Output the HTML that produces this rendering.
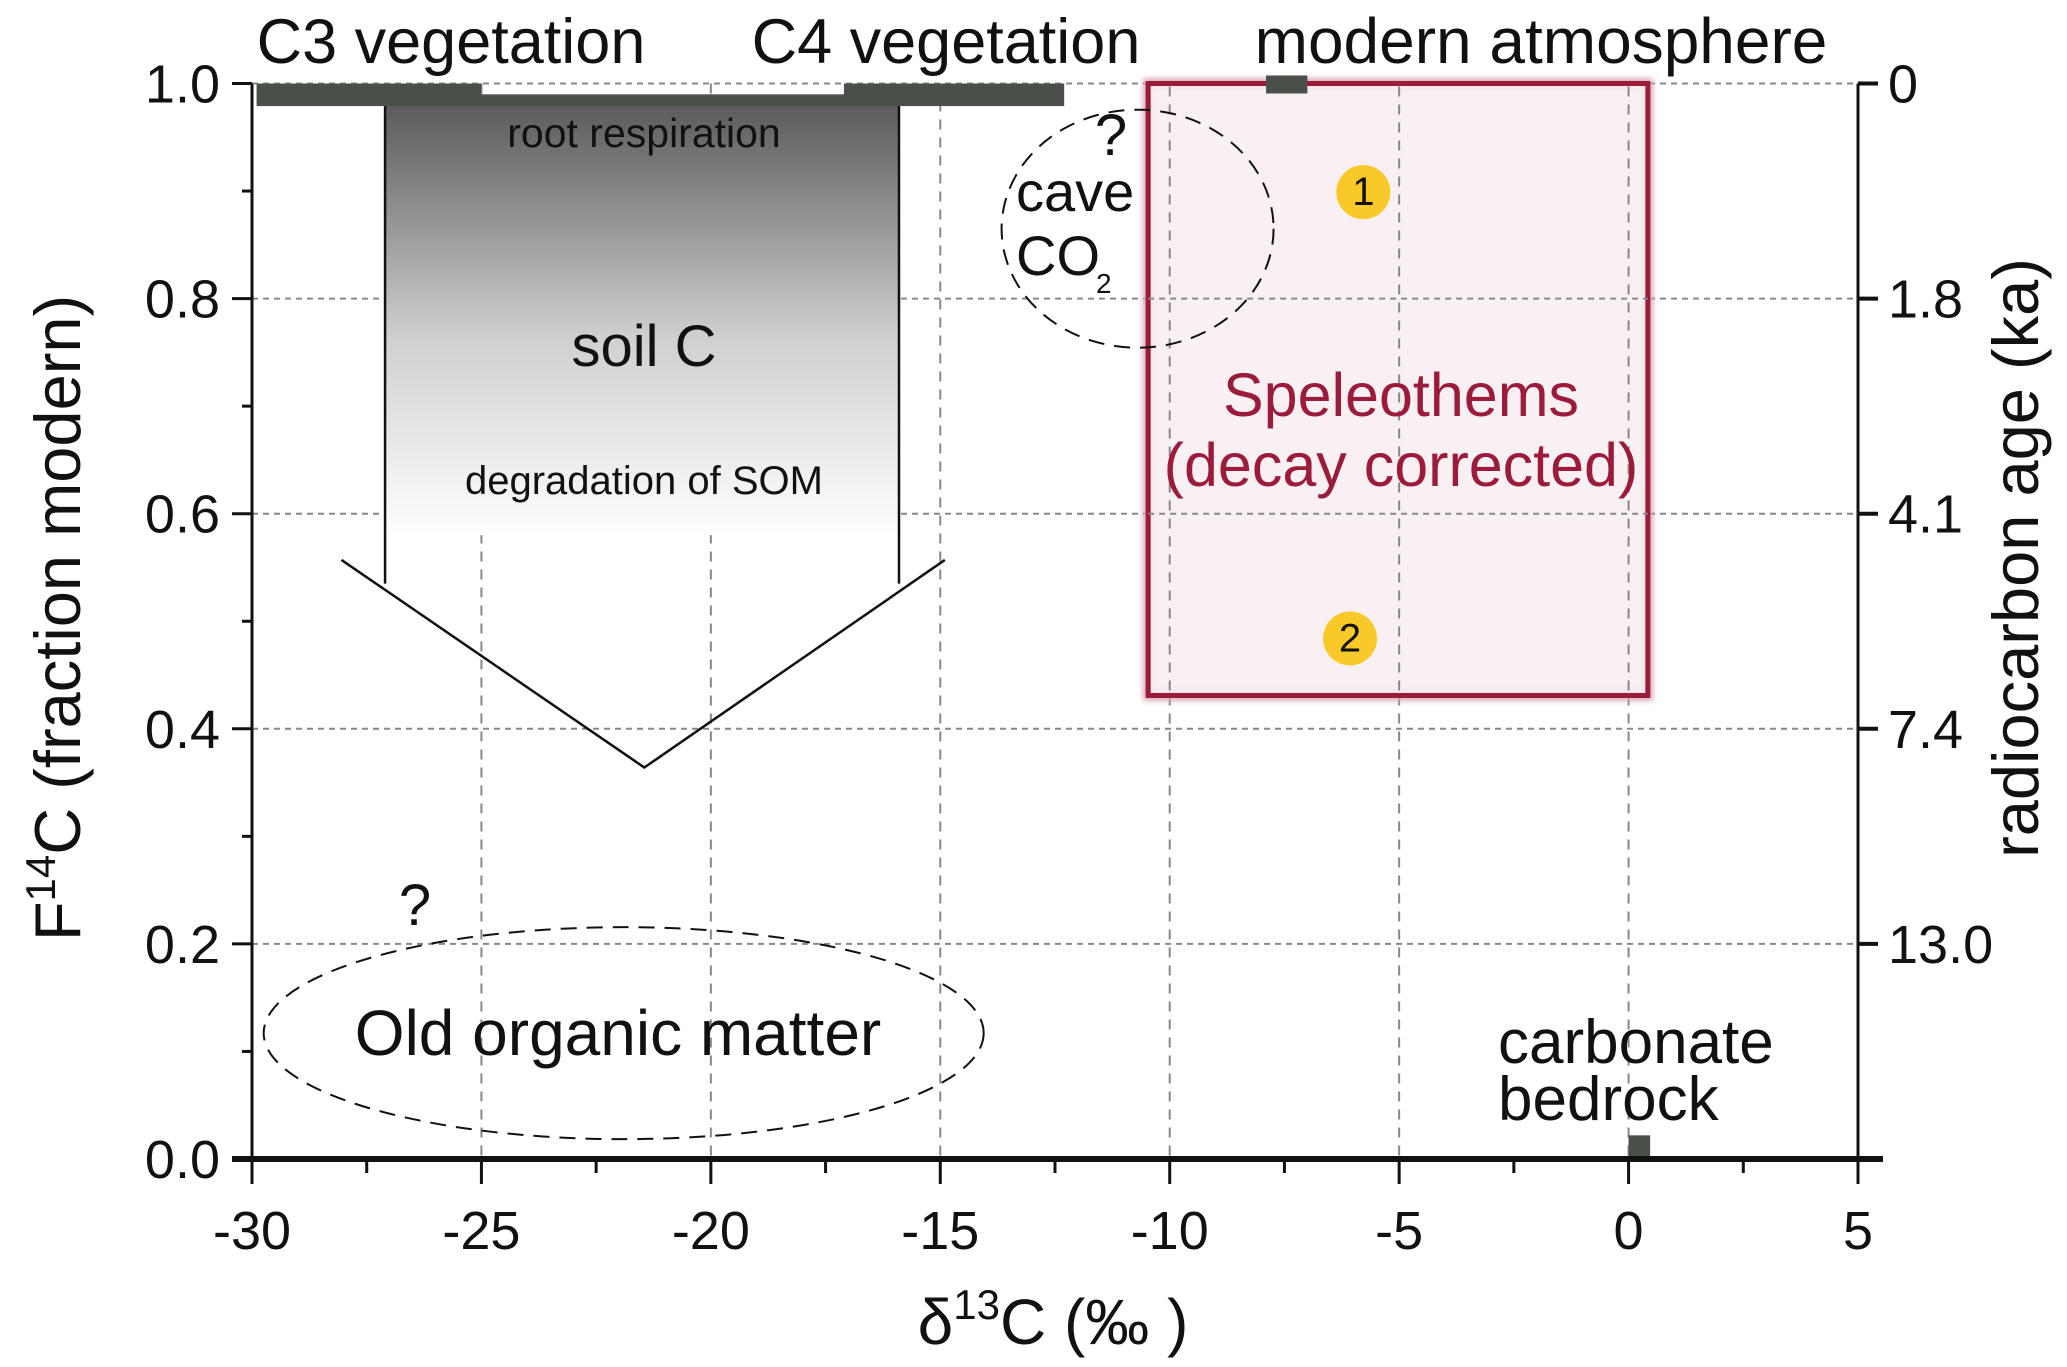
<!DOCTYPE html>
<html><head><meta charset="utf-8"><style>
html,body{margin:0;padding:0;background:#fff;}
svg{display:block;font-family:"Liberation Sans Narrow","Liberation Sans",sans-serif;}
</style></head><body>
<svg id="chart" width="2067" height="1367" viewBox="0 0 2067 1367" xmlns="http://www.w3.org/2000/svg">
<defs>
<linearGradient id="soilGrad" x1="0" y1="0" x2="0" y2="1">
<stop offset="0" stop-color="#555"/><stop offset="0.55" stop-color="#cfcfcf"/><stop offset="1" stop-color="#fff"/>
</linearGradient>
<filter id="glow" x="-5%" y="-5%" width="110%" height="110%"><feGaussianBlur stdDeviation="3"/></filter>
</defs>
<g id="grid"></g>
<g id="marks"></g>
<g id="axes"></g>
</svg>
<script>
const xTicks=[-30,-25,-20,-15,-10,-5,0,5];
const yTicks=[0.0,0.2,0.4,0.6,0.8,1.0];
const yTickLabels=["0.0","0.2","0.4","0.6","0.8","1.0"];
const ageTicks=[1.0,0.8,0.6,0.4,0.2];
const ageLabels=["0","1.8","4.1","7.4","13.0"];
const c3Range=[-29.9,-25.0];
const c4Range=[-17.1,-12.3];
const soilRange=[-27.1,-15.9];
const soilBottom=0.535;
const vArrow=[[-28.05,0.557],[-21.45,0.364],[-14.9,0.557]];
const speleoX=[-10.47,0.42];
const speleoY=[0.431,1.0];
const samplesX=[-5.78,-6.07];
const samplesY=[0.899,0.484];
const sampleLabels=["1","2"];
const atmX=[-7.9,-7.0];
const bedrockX=[0.0,0.47];
const caveCenter=[-10.7,0.865];
const oldCenter=[-21.9,0.117];

const NS="http://www.w3.org/2000/svg";
const X0=252,X1=1858,Y0=1159,Y1=83.5;
const X=v=>X0+(v+30)/35*(X1-X0);
const Y=v=>Y0-v*(Y0-Y1);
function mk(parent,tag,attrs,text){const e=document.createElementNS(NS,tag);for(const k in attrs)e.setAttribute(k,attrs[k]);if(text!==undefined)e.textContent=text;document.getElementById(parent).appendChild(e);return e;}

yTicks.forEach(v=>{if(v>0){const l=mk('grid','line',{x1:X0,x2:X1,y1:Y(v),y2:Y(v),stroke:'#888','stroke-width':2,'stroke-dasharray':'6 5'});

}});
xTicks.forEach(v=>{if(v>-30&&v<5){const l=mk('grid','line',{x1:X(v),x2:X(v),y1:Y1,y2:Y0,stroke:'#888','stroke-width':2,'stroke-dasharray':'10 8'});

}});

let e;
e=mk('marks','rect',{x:X(soilRange[0]),y:Y(0.99),width:X(soilRange[1])-X(soilRange[0]),height:Y(0.58)-Y(0.99),fill:'url(#soilGrad)'});


[soilRange[0],soilRange[1]].forEach(v=>{const l=mk('marks','line',{x1:X(v),x2:X(v),y1:Y(0.98),y2:Y(soilBottom),stroke:'#111','stroke-width':2.5});

});
e=mk('marks','polyline',{points:vArrow.map(p=>X(p[0])+','+Y(p[1])).join(' '),fill:'none',stroke:'#111','stroke-width':2.5});


e=mk('marks','rect',{x:X(c3Range[1]),y:Y(0.9885),width:X(c4Range[0])-X(c3Range[1]),height:Y(0.979)-Y(0.9885),fill:'#4a4f4a'});


e=mk('marks','rect',{x:X(c3Range[0]),y:Y(1.0),width:X(c3Range[1])-X(c3Range[0]),height:Y(0.979)-Y(1.0),fill:'#4a4f4a'});


e=mk('marks','rect',{x:X(c4Range[0]),y:Y(1.0),width:X(c4Range[1])-X(c4Range[0]),height:Y(0.979)-Y(1.0),fill:'#4a4f4a'});



e=mk('marks','ellipse',{cx:X(oldCenter[0]),cy:Y(oldCenter[1]),rx:360,ry:106,fill:'none',stroke:'#111','stroke-width':2,'stroke-dasharray':'16 10'});



e=mk('marks','rect',{x:X(speleoX[0]),y:Y(speleoY[1]),width:X(speleoX[1])-X(speleoX[0]),height:Y(speleoY[0])-Y(speleoY[1]),fill:'#f8eff2',stroke:'#d9a0b0','stroke-width':10,filter:'url(#glow)'});


e=mk('marks','rect',{x:X(speleoX[0]),y:Y(speleoY[1]),width:X(speleoX[1])-X(speleoX[0]),height:Y(speleoY[0])-Y(speleoY[1]),fill:'#f8f0f3','fill-opacity':0.85,stroke:'#9b1b3a','stroke-width':5});


yTicks.forEach(v=>{if(v>speleoY[0]&&v<1){const l=mk('marks','line',{x1:X(speleoX[0]),x2:X(speleoX[1]),y1:Y(v),y2:Y(v),stroke:'#888','stroke-width':2,'stroke-dasharray':'6 5'});

}});
xTicks.forEach(v=>{if(v>speleoX[0]&&v<speleoX[1]){const l=mk('marks','line',{x1:X(v),x2:X(v),y1:Y(speleoY[1])+3,y2:Y(speleoY[0])-3,stroke:'#888','stroke-width':2,'stroke-dasharray':'10 8'});

}});

e=mk('marks','ellipse',{cx:X(caveCenter[0]),cy:Y(caveCenter[1]),rx:136,ry:119,fill:'none',stroke:'#111','stroke-width':2,'stroke-dasharray':'16 10'});



samplesX.forEach((v,i)=>{const c=mk('marks','circle',{cx:X(v),cy:Y(samplesY[i]),r:27,fill:'#f9c92a'});


const t=mk('marks','text',{x:X(v),y:Y(samplesY[i])+13,'text-anchor':'middle','font-size':40,fill:'#111'},sampleLabels[i]);

});

e=mk('marks','rect',{x:X(atmX[0]),y:Y(1.0)-8,width:X(atmX[1])-X(atmX[0]),height:18,fill:'#4a4f4a'});


e=mk('marks','rect',{x:X(bedrockX[0]),y:Y(0.022),width:X(bedrockX[1])-X(bedrockX[0]),height:Y(0)-Y(0.022),fill:'#4a4f4a'});



function txt(name,x,y,size,str,color,anchor){const t=mk('marks','text',{x:x,y:y,'font-size':size,fill:color||'#111','text-anchor':anchor||'middle'},str);

return t;}
txt('c3-label',451,63,63,'C3 vegetation');
txt('c4-label',946,63,63,'C4 vegetation');
txt('modern-atmosphere-label',1541,63,64,'modern atmosphere');
txt('root-respiration-label',644,147,41,'root respiration');
txt('soil-c-label',644,366,58,'soil C');
txt('degradation-label',644,494,40,'degradation of SOM');
txt('cave-question',1111,155,58,'?');
txt('cave-label',1016,211,56,'cave','#111','start');
txt('co2-label',1016,275,56,'CO','#111','start');
txt('co2-subscript',1096,293,28,'2','#111','start');
txt('speleothems-label',1401,416,61,'Speleothems','#9b1b3a');
txt('decay-corrected-label',1401,486,61,'(decay corrected)','#9b1b3a');
txt('old-question',415,925,58,'?');
txt('old-organic-label',618,1055,64,'Old organic matter');
txt('carbonate-label',1498,1063,62,'carbonate','#111','start');
txt('bedrock-label',1498,1120,62,'bedrock','#111','start');

e=mk('axes','line',{x1:X0,x2:X0,y1:Y1,y2:Y0,stroke:'#111','stroke-width':3});


e=mk('axes','line',{x1:X0-20,x2:X1+25,y1:Y0,y2:Y0,stroke:'#111','stroke-width':6});


e=mk('axes','line',{x1:X1,x2:X1,y1:Y1,y2:Y0+25,stroke:'#111','stroke-width':3});


yTicks.forEach((v,i)=>{const l=mk('axes','line',{x1:X0-20,x2:X0,y1:Y(v),y2:Y(v),stroke:'#111','stroke-width':3});


const t=mk('axes','text',{x:X0-32,y:Y(v)+19,'text-anchor':'end','font-size':54,fill:'#111'},yTickLabels[i]);


if(v<1){const m=mk('axes','line',{x1:X0-10,x2:X0,y1:Y(v+0.1),y2:Y(v+0.1),stroke:'#111','stroke-width':3});

}});
xTicks.forEach((v,i)=>{const l=mk('axes','line',{x1:X(v),x2:X(v),y1:Y0,y2:Y0+25,stroke:'#111','stroke-width':3});


const t=mk('axes','text',{x:X(v),y:Y0+90,'text-anchor':'middle','font-size':54,fill:'#111'},String(v));


if(v<5){const m=mk('axes','line',{x1:X(v+2.5),x2:X(v+2.5),y1:Y0,y2:Y0+14,stroke:'#111','stroke-width':3});

}});
ageTicks.forEach((v,i)=>{const l=mk('axes','line',{x1:X1,x2:X1+20,y1:Y(v),y2:Y(v),stroke:'#111','stroke-width':4});


const t=mk('axes','text',{x:X1+30,y:Y(v)+19,'text-anchor':'start','font-size':54,fill:'#111'},ageLabels[i]);

});

let tt=mk('axes','text',{x:0,y:0,'text-anchor':'middle','font-size':65,fill:'#111','font-family':'Liberation Sans, sans-serif',transform:'translate(80,618) rotate(-90)'});


tt.innerHTML='F<tspan dy="-25" font-size="42">14</tspan><tspan dy="25">C (fraction modern)</tspan>';
tt=mk('axes','text',{x:0,y:0,'text-anchor':'middle','font-size':65,fill:'#111','font-family':'Liberation Sans, sans-serif',transform:'translate(2038,558) rotate(-90)'},'radiocarbon age (ka)');


tt=mk('axes','text',{x:1053,y:1344,'text-anchor':'middle','font-size':64,fill:'#111','font-family':'Liberation Sans, sans-serif'});


tt.innerHTML='δ<tspan dy="-25" font-size="42">13</tspan><tspan dy="25">C (‰ )</tspan>';
</script>
</body></html>
